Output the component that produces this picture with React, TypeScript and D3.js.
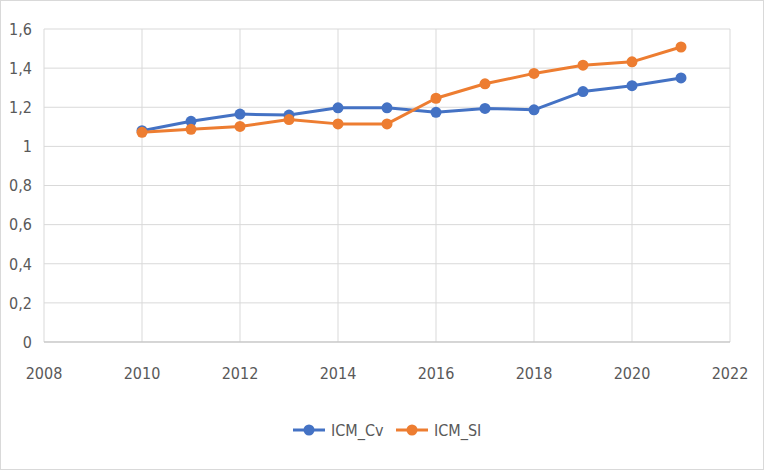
import React from "react";
import * as d3 from "d3";

const years = [2010, 2011, 2012, 2013, 2014, 2015, 2016, 2017, 2018, 2019, 2020, 2021];
const icmCv = [1.08, 1.128, 1.165, 1.16, 1.197, 1.197, 1.174, 1.194, 1.187, 1.28, 1.31, 1.35];
const icmSi = [1.072, 1.087, 1.102, 1.137, 1.115, 1.115, 1.246, 1.32, 1.373, 1.415, 1.432, 1.508];
const xTicks = [2008, 2010, 2012, 2014, 2016, 2018, 2020, 2022];
const yTicks = [0, 0.2, 0.4, 0.6, 0.8, 1, 1.2, 1.4, 1.6];
const seriesNames = ["ICM_Cv", "ICM_SI"];
const seriesColors = ["#4472C4", "#ED7D31"];

const W = 764;
const H = 470;
const FONT = "'DejaVu Sans Condensed', 'Liberation Sans Narrow', sans-serif";

export default function App() {
  const x = d3.scaleLinear().domain([2008, 2022]).range([44, 730]);
  const y = d3.scaleLinear().domain([0, 1.6]).range([342, 29]);
  const fmt = (v: number) => String(+v.toFixed(1)).replace(".", ",");
  const line = d3
    .line<number>()
    .x((_, i) => x(years[i]))
    .y((d) => y(d));
  const series = [icmCv, icmSi];
  const legendX = [293, 396];

  return (
    <svg
      width={W}
      height={H}
      style={{ position: "absolute", left: 0, top: 0 }}
      fontFamily={FONT}
      fontStretch="condensed"
    >
      <rect x={0.5} y={0.5} width={W - 1} height={H - 1} fill="#fff" stroke="#d9d9d9" />
      {yTicks.map((t) => (
        <line key={"gy" + t} x1={x(2008)} x2={x(2022)} y1={y(t)} y2={y(t)} stroke="#d9d9d9" strokeWidth={1} />
      ))}
      {xTicks.map((t) => (
        <line key={"gx" + t} x1={x(t)} x2={x(t)} y1={y(0)} y2={y(1.6)} stroke="#d9d9d9" strokeWidth={1} />
      ))}
      <line x1={x(2008)} x2={x(2022)} y1={y(0)} y2={y(0)} stroke="#bfbfbf" strokeWidth={1} />
      {yTicks.map((t) => (
        <text key={"ty" + t} x={32} y={y(t)} dy="0.36em" textAnchor="end" fontSize={16} fill="#595959">
          {fmt(t)}
        </text>
      ))}
      {xTicks.map((t) => (
        <text key={"tx" + t} x={x(t)} y={379} textAnchor="middle" fontSize={16} fill="#595959">
          {t}
        </text>
      ))}
      {series.map((s, k) => (
        <g key={"s" + k}>
          <path d={line(s) || ""} fill="none" stroke={seriesColors[k]} strokeWidth={3} strokeLinejoin="round" />
          {s.map((v, i) => (
            <circle key={i} cx={x(years[i])} cy={y(v)} r={5.5} fill={seriesColors[k]} />
          ))}
        </g>
      ))}
      {seriesNames.map((n, k) => (
        <g key={"l" + k} transform={`translate(${legendX[k]},430)`}>
          <line x1={0} x2={32} y1={0} y2={0} stroke={seriesColors[k]} strokeWidth={3} />
          <circle cx={16} cy={0} r={5.5} fill={seriesColors[k]} />
          <text x={38} y={0} dy="0.36em" fontSize={16} fill="#595959">
            {n}
          </text>
        </g>
      ))}
    </svg>
  );
}
